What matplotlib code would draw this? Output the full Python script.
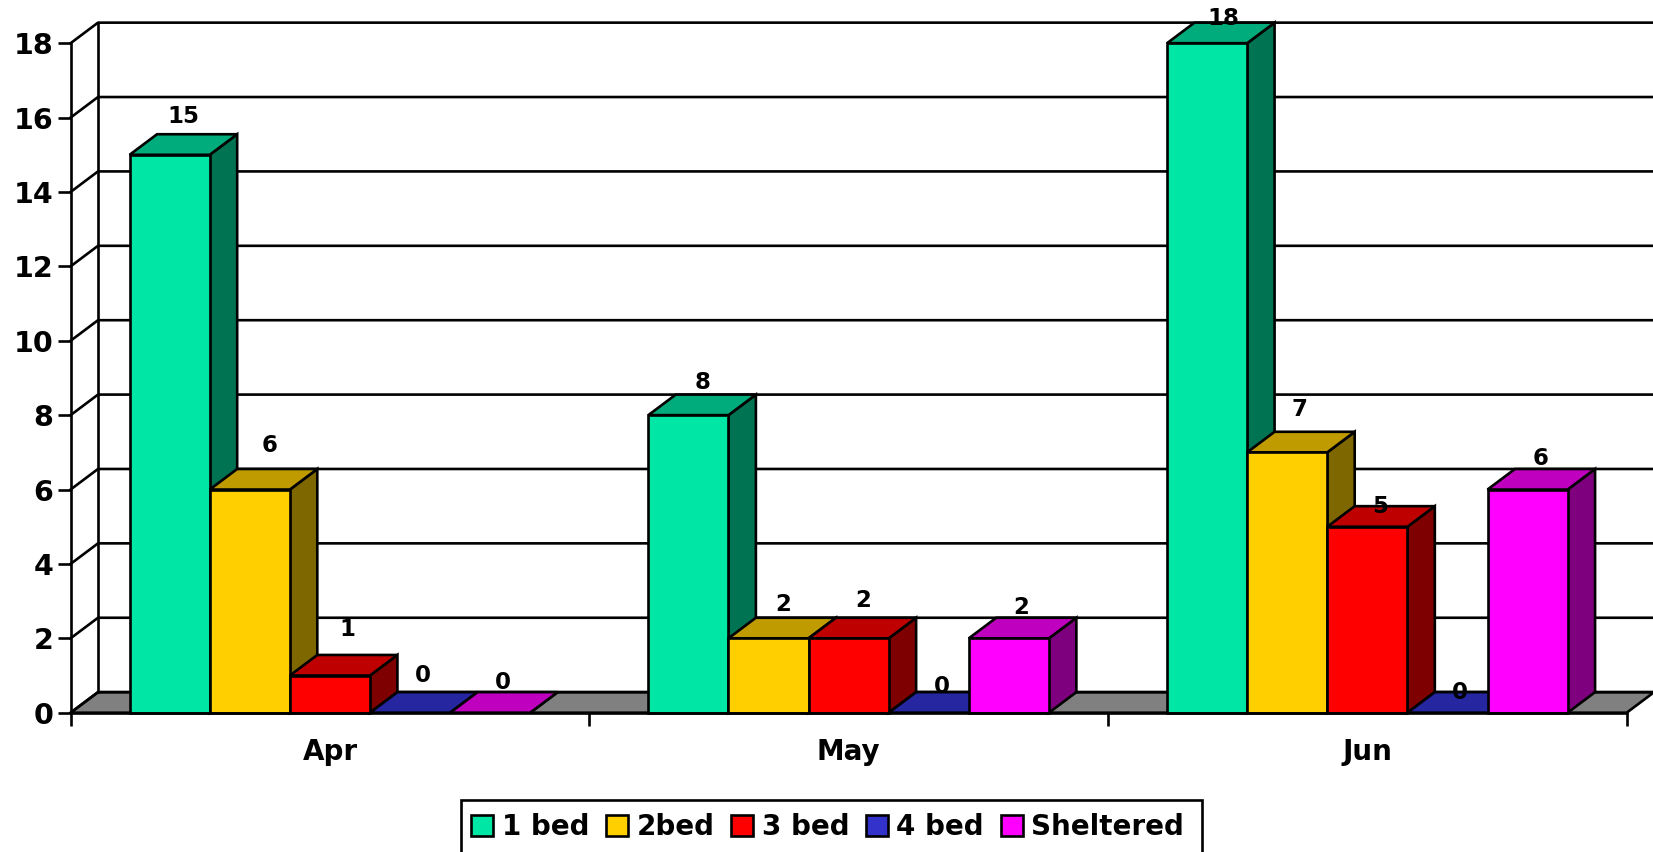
# -*- coding: utf-8 -*-
"""Grafico de barras 3D falso (estilo Excel) de viviendas por mes."""

import matplotlib
matplotlib.use("Agg")
import matplotlib.pyplot as plt
from matplotlib.patches import Polygon, Patch, Rectangle

## DATOS ################################################################
months = ["Apr", "May", "Jun"]
series_names = ["1 bed", "2bed", "3 bed", "4 bed", "Sheltered"]
one_bed = [15, 8, 18]
two_bed = [6, 2, 7]
three_bed = [1, 2, 5]
four_bed = [0, 0, 0]
sheltered = [0, 2, 6]
y_ticks = [0, 2, 4, 6, 8, 10, 12, 14, 16, 18]

## ESTILO ###############################################################
colors = ["#00E6A5", "#FFCF00", "#FF0000", "#3333CC", "#FF00FF"]
top_colors = ["#00AC7C", "#BF9B00", "#BF0000", "#2626A0", "#BF00BF"]
side_colors = ["#007352", "#7F6700", "#7F0000", "#1A1A66", "#7F007F"]
FLOOR = "#808080"
LW = 1.9

W, H = 1653, 852
LEFT, RIGHT, TOP, BOTTOM = 70.6, 1626.7, 43.2, 712.7  # plano frontal en px

bar_w = 76 / 492      # ancho de barra en unidades de categoria
gap = 56.0 / 492      # hueco a cada lado del grupo
depth_x = 26 / 492    # profundidad en x
depth_y = 19.5 / 35.28  # profundidad en y

# Desplazamiento de las etiquetas respecto al tope de cada barra (px)
label_dx = [[13, 13, 15], [19, 14, 12], [17, 14, 12], [12, 12, 12], [12, 12, 12]]
label_dy = [[36, 31, 23], [42, 32, 41], [44, 36, 19], [35, 25, 19], [29, 29, 29]]
PX = 1.0542 * 0.72  # px de la referencia a puntos

fig = plt.figure(figsize=(W / 100, H / 100), dpi=100)
ax = fig.add_axes([LEFT / W, 1 - BOTTOM / H, (RIGHT - LEFT) / W, (BOTTOM - TOP) / H])
ax.set_xlim(0, len(months))
ax.set_ylim(0, 18)
for s in ax.spines.values():
    s.set_visible(False)
ax.patch.set_visible(False)

# Paredes y suelo
n = len(months)
ax.add_patch(Polygon([(0, 0), (n, 0), (n + depth_x, depth_y), (depth_x, depth_y)],
                     facecolor=FLOOR, edgecolor="black", lw=LW, zorder=1, clip_on=False))
for t in y_ticks:
    ax.plot([0, depth_x, n + depth_x], [t, t + depth_y, t + depth_y], color="black",
            lw=LW, zorder=1, clip_on=False)
ax.plot([0, 0], [0, 18], color="black", lw=LW, zorder=1, clip_on=False)
ax.plot([depth_x, depth_x], [depth_y, 18 + depth_y], color="black", lw=LW, zorder=1, clip_on=False)
ax.plot([0, n], [0, 0], color="black", lw=LW, zorder=50, clip_on=False)

# Barras, de izquierda a derecha para que tapen bien
all_series = [one_bed, two_bed, three_bed, four_bed, sheltered]
z = 2
for m in range(n):
    for i, values in enumerate(all_series):
        v = values[m]
        x0 = m + gap + i * bar_w
        x1 = x0 + bar_w
        ax.add_patch(Polygon([(x1, 0), (x1 + depth_x, depth_y), (x1 + depth_x, v + depth_y), (x1, v)],
                             facecolor=side_colors[i], edgecolor="black", lw=LW, zorder=z,
                             clip_on=False))
        ax.add_patch(Polygon([(x0, v), (x1, v), (x1 + depth_x, v + depth_y), (x0 + depth_x, v + depth_y)],
                             facecolor=top_colors[i], edgecolor="black", lw=LW, zorder=z,
                             clip_on=False))
        if v > 0:
            ax.bar(x0, v, width=bar_w, align="edge", color=colors[i], edgecolor="black",
                   linewidth=LW, zorder=z, clip_on=False)
        z += 1

# Etiquetas de valor
for m in range(n):
    for i, values in enumerate(all_series):
        xc = m + gap + (i + 0.5) * bar_w
        ax.annotate(str(values[m]), xy=(xc, values[m]),
                    xytext=(label_dx[i][m] * PX, label_dy[i][m] * PX),
                    textcoords="offset points", ha="center", va="center",
                    fontsize=16.5, fontweight="bold", color="black", zorder=60,
                    annotation_clip=False)

# Ejes
ax.set_yticks(y_ticks)
ax.set_yticklabels([str(t) for t in y_ticks], fontsize=20.5, fontweight="bold")
ax.set_xticks(range(n + 1))
ax.set_xticklabels([""] * (n + 1))
ax.set_xticks([m + 0.5 for m in range(n)], minor=True)
ax.set_xticklabels(months, minor=True, fontsize=20, fontweight="bold")
ax.tick_params(axis="y", direction="out", length=9.4, width=LW, pad=3)
ax.tick_params(axis="x", which="major", direction="out", length=9, width=LW)
ax.tick_params(axis="x", which="minor", length=0, pad=18)

# Leyenda: el marco se sale por abajo de la figura, igual que en el original
fig.add_artist(Rectangle((460.7 / W, -10 / H), 741 / W, (H - 800 + 10) / H,
                         transform=fig.transFigure, facecolor="white", edgecolor="black",
                         lw=LW, zorder=5))
handles = [Patch(facecolor=c, edgecolor="black", linewidth=LW) for c in colors]
leg = fig.legend(handles, series_names, loc="upper left", bbox_to_anchor=(471 / W, 1 - 813 / H),
                 bbox_transform=fig.transFigure, ncol=5, frameon=False, borderaxespad=0,
                 prop={"size": 20, "weight": "bold"}, handlelength=0.8, handleheight=0.8,
                 handletextpad=0.3, columnspacing=0.6, borderpad=0)
leg.set_zorder(6)

fig.savefig("out.png", dpi=100, facecolor="white")
